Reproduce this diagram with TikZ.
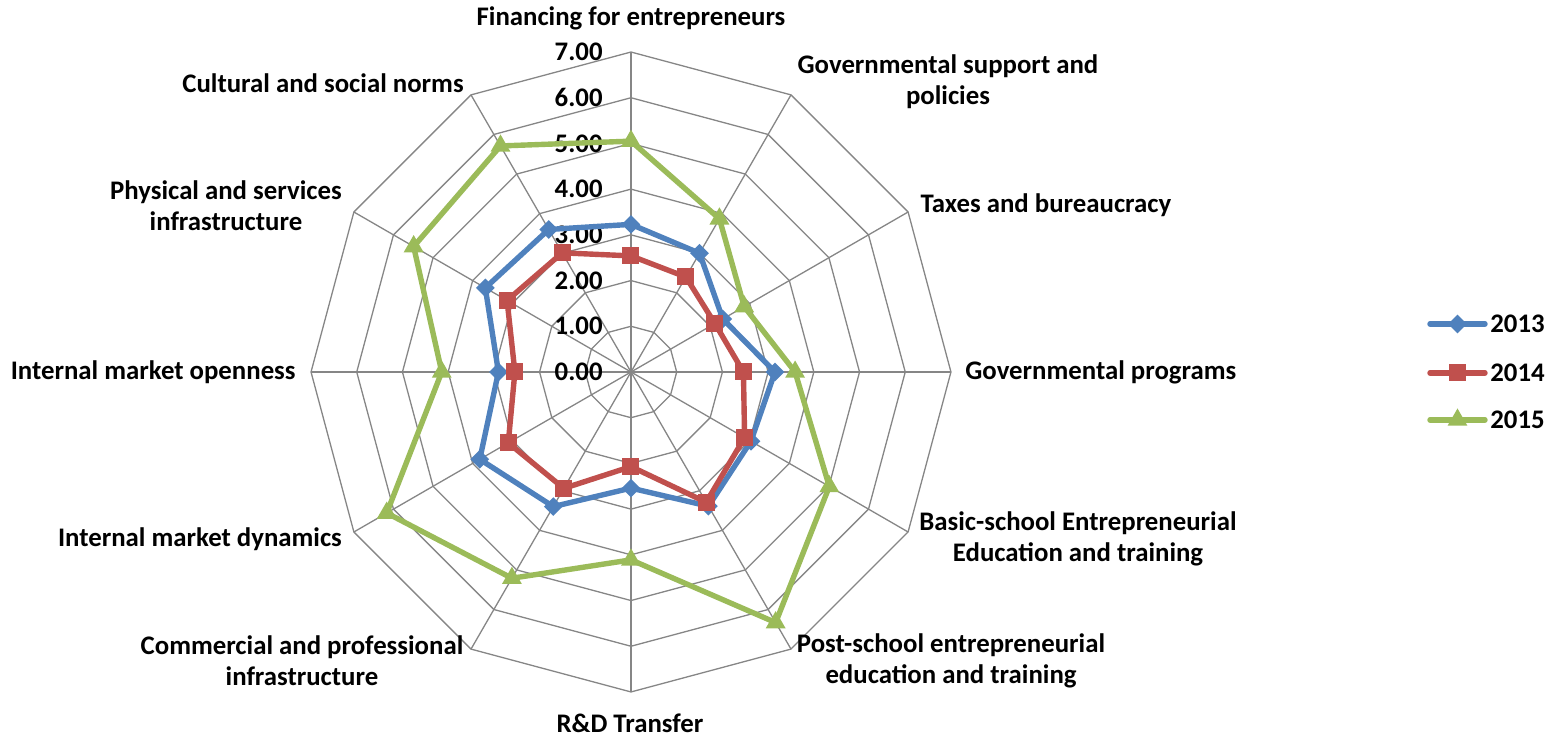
\documentclass[tikz,border=0pt]{standalone}
\usepackage{fontspec}
\setmainfont{Carlito}
\usetikzlibrary{shapes.geometric}
\definecolor{serBlue}{RGB}{79,129,189}
\definecolor{serRed}{RGB}{192,80,77}
\definecolor{serGreen}{RGB}{155,187,89}
\definecolor{gridGray}{RGB}{134,134,134}
\tikzset{
    web/.style={draw=gridGray, line width=0.65pt},
    series/.style={line width=2.7pt, line join=round, line cap=round},
    axislabel/.style={font=\bfseries\fontsize{13.4}{15.7}\selectfont, align=center, inner sep=0pt},
    ticklabel/.style={font=\bfseries\fontsize{13.4}{15}\selectfont, anchor=east, inner sep=0pt},
    bluemark/.style={diamond, fill=serBlue, inner sep=0pt, minimum size=9.5pt},
    redmark/.style={rectangle, fill=serRed, inner sep=0pt, minimum size=8.5pt},
    greenmark/.style={regular polygon, regular polygon sides=3, fill=serGreen, inner sep=0pt, minimum size=11.5pt}
}
\def\unit{45.71}
% values per axis, clockwise from the top
\def\dataA{3.23,3.00,2.32,3.15,3.03,3.39,2.54,3.40,3.82,2.90,3.68,3.60}
\def\dataB{2.54,2.40,2.12,2.46,2.87,3.29,2.07,2.94,3.10,2.54,3.13,3.01}
\def\dataC{5.05,3.87,2.86,3.59,5.01,6.33,4.11,5.21,6.17,4.14,5.49,5.71}

\begin{document}
\begin{tikzpicture}[x=0.5pt, y=0.5pt]
    \useasboundingbox (-631,-365) rectangle (924,372);

    % web: rings and spokes
    \coordinate (centre) at (0,0);
    \foreach \r in {1,...,7}
        \draw[web] (90:{\r*\unit}) \foreach \k in {1,...,11}{ -- ({90-30*\k}:{\r*\unit}) } -- cycle;
    \foreach \k in {1,...,12} {
        \coordinate (tip\k) at ({90-30*(\k-1)}:{7*\unit});
        \draw[web] (centre) -- (tip\k);
    }

    % scale
    \foreach \r in {0,...,7}
        \node[ticklabel] (tick\r) at (-28,{\r*\unit}) {\r.00};

    % series 2013
    \foreach \v [count=\k] in \dataA
        \coordinate (a\k) at ({90-30*(\k-1)}:{\v*\unit});
    \draw[series, serBlue] (a1) \foreach \k in {2,...,12}{ -- (a\k) } -- cycle;
    \foreach \k in {1,...,12}
        \node[bluemark] (ma\k) at (a\k) {};

    % series 2014
    \foreach \v [count=\k] in \dataB
        \coordinate (b\k) at ({90-30*(\k-1)}:{\v*\unit});
    \draw[series, serRed] (b1) \foreach \k in {2,...,12}{ -- (b\k) } -- cycle;
    \foreach \k in {1,...,12}
        \node[redmark] (mb\k) at (b\k) {};

    % series 2015
    \foreach \v [count=\k] in \dataC
        \coordinate (c\k) at ({90-30*(\k-1)}:{\v*\unit});
    \draw[series, serGreen] (c1) \foreach \k in {2,...,12}{ -- (c\k) } -- cycle;
    \foreach \k in {1,...,12}
        \node[greenmark] (mc\k) at (c\k) {};

    % axis names
    \node[axislabel] (financing) at (0,354) {Financing for entrepreneurs};
    \node[axislabel] (support) at (317,290) {Governmental support and\\policies};
    \node[axislabel] (taxes) at (415,167) {Taxes and bureaucracy};
    \node[axislabel, anchor=west] (programs) at (334,0) {Governmental programs};
    \node[axislabel] (basic) at (447,-167) {Basic-school Entrepreneurial\\Education and training};
    \node[axislabel] (post) at (320,-289) {Post-school entrepreneurial\\education and training};
    \node[axislabel] (transfer) at (-1,-351) {R\&D Transfer};
    \node[axislabel] (commercial) at (-329,-289) {Commercial and professional\\infrastructure};
    \node[axislabel] (dynamics) at (-431,-167) {Internal market dynamics};
    \node[axislabel, anchor=east] (openness) at (-335,0) {Internal market openness};
    \node[axislabel] (physical) at (-405,166) {Physical and services\\infrastructure};
    \node[axislabel] (cultural) at (-308,289) {Cultural and social norms};

    % legend
    \coordinate (legA) at (799,48);  \coordinate (legAend) at (854,48);
    \coordinate (legB) at (799,-1);  \coordinate (legBend) at (854,-1);
    \coordinate (legC) at (799,-48); \coordinate (legCend) at (854,-48);
    \draw[series, serBlue] (legA) -- (legAend);
    \node[bluemark] (keyA) at (826.5,48) {};
    \draw[series, serRed] (legB) -- (legBend);
    \node[redmark] (keyB) at (826.5,-1) {};
    \draw[series, serGreen] (legC) -- (legCend);
    \node[greenmark] (keyC) at (826.5,-48) {};
    \node[axislabel, anchor=west, xshift=2.5pt] (yearA) at (legAend) {2013};
    \node[axislabel, anchor=west, xshift=2.5pt] (yearB) at (legBend) {2014};
    \node[axislabel, anchor=west, xshift=2.5pt] (yearC) at (legCend) {2015};
\end{tikzpicture}
\end{document}
